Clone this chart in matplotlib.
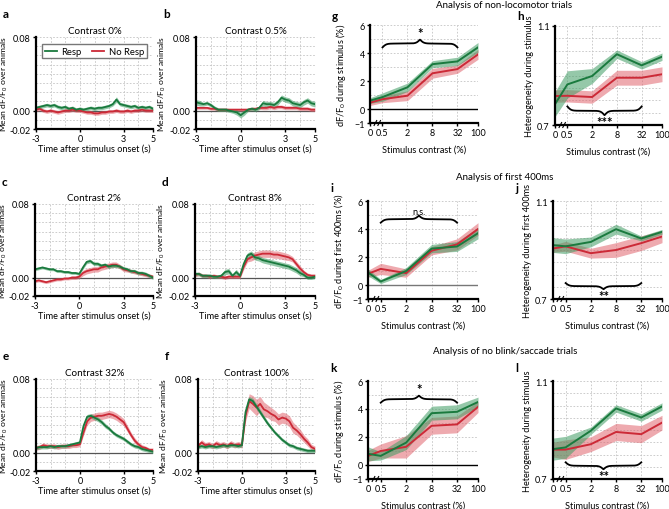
import numpy as np
import matplotlib
matplotlib.use("Agg")
import matplotlib.pyplot as plt
from matplotlib.ticker import MultipleLocator, FixedLocator

plt.rcParams["font.family"] = ["Lato", "DejaVu Sans"]
plt.rcParams["mathtext.fontset"] = "custom"
plt.rcParams["mathtext.rm"] = "Lato"
plt.rcParams["mathtext.default"] = "regular"
plt.rcParams["font.size"] = 6.6

W, H = 669, 510
FS = 6.5      # tick labels
LFS = 6.6     # axis labels
GREEN, GREEN_FILL = "#1a7a3e", "#3f9c63"
RED, RED_FILL = "#cc2a37", "#e0646e"

# ── time traces (values in units of 1e-3 dF/F0), sampled every 0.25 s ──────
TIME = np.arange(-3, 5.001, 0.25)

A_RESP = [3, 4, 5, 6, 5, 6, 4, 3, 4, 2, 3, 1, 2, 1, 2, 3, 2, 3, 3, 4, 5, 7, 12, 7, 6, 5, 4, 5, 3, 4, 3, 4, 2]
A_NORESP = [1, 2, 0, -1, 0, -1, -2, -1, 0, 0, 1, 0, 0, -1, -2, -2, -3, -3, -2, -2, -1, -1, 0, -1, -1, 0, -1, 0, 0, 1, 0, 0, 0]
A_RESP_SEM = [2, 2, 2, 2, 2, 2, 2, 2, 2, 2, 2, 2, 2, 2, 2, 2, 2, 2, 2, 2, 2, 2, 3, 2, 2, 2, 2, 2, 2, 2, 2, 2, 2]
A_NORESP_SEM = [2, 2, 2, 2, 2, 2, 2, 2, 2, 2, 2, 2, 2, 2, 2, 2, 2, 2, 2, 2, 2, 2, 2, 2, 2, 2, 2, 2, 2, 2, 2, 2, 2]

B_RESP = [9, 8, 7, 8, 6, 3, 1, 1, 1, 0, -1, -2, -5, -2, 1, 2, 1, 3, 8, 7, 7, 6, 9, 14, 12, 11, 8, 7, 6, 9, 11, 8, 7]
B_NORESP = [3, 3, 3, 3, 2, 2, 1, 1, 1, 1, 1, 1, 1, 1, 1, 2, 2, 3, 3, 3, 4, 3, 4, 4, 3, 3, 3, 3, 2, 2, 2, 1, 1]
B_RESP_SEM = [3, 3, 2, 2, 2, 2, 2, 2, 2, 2, 2, 3, 3, 3, 2, 2, 2, 2, 3, 3, 3, 3, 3, 3, 3, 3, 3, 3, 3, 3, 3, 3, 3]
B_NORESP_SEM = [1.5, 1.5, 1.5, 1.5, 1.5, 1.5, 1.5, 1.5, 1.5, 1.5, 1.5, 1.5, 1.5, 1.5, 1.5, 1.5, 1.5, 1.5, 2, 2, 2, 2, 2, 2, 2, 2, 2, 2, 2, 2, 2, 2, 2]

C_RESP = [9, 10, 11, 10, 9, 9, 7, 7, 6, 6, 5, 5, 4, 11, 17, 18, 15, 15, 13, 14, 12, 13, 13, 12, 10, 9, 7, 7, 5, 5, 4, 2, 0]
C_NORESP = [-4, -3, -4, -5, -4, -3, -2, -2, -1, -1, 0, 0, 1, 5, 7, 8, 9, 9, 11, 12, 13, 14, 14, 12, 9, 8, 7, 6, 5, 4, 3, 2, 1]
C_RESP_SEM = [1.5, 1.5, 1.5, 1.5, 1.5, 1.5, 1.5, 1.5, 1.5, 1.5, 1.5, 1.5, 1.5, 2, 2, 2, 2, 2, 2, 2, 2, 2, 2, 2, 2, 2, 2, 2, 2, 2, 2, 2, 2]
C_NORESP_SEM = [1.5, 1.5, 1.5, 1.5, 1.5, 1.5, 1.5, 1.5, 1.5, 1.5, 2, 2, 2, 3, 3, 3, 3, 3, 3, 3, 3, 3, 3, 2.5, 2.5, 2, 2, 2, 2, 2, 2, 2, 2]

D_RESP = [4, 4, 2, 2, 2, 1, 1, 2, 6, 7, 2, 6, 2, 15, 24, 26, 22, 21, 19, 18, 17, 16, 15, 14, 13, 12, 10, 8, 5, 3, 0, 0, 1]
D_NORESP = [3, 4, 2, 2, 1, 2, 1, 1, 0, 1, 1, 1, 1, 12, 20, 22, 24, 25, 26, 26, 26, 25, 25, 24, 23, 22, 20, 15, 10, 6, 3, 2, 2]
D_RESP_SEM = [2, 2, 2, 2, 2, 2, 2, 2, 3, 3, 2, 3, 2, 3, 3, 3, 3, 3, 3, 3, 3, 3, 3, 3, 3, 3, 3, 3, 3, 2, 2, 2, 2]
D_NORESP_SEM = [2, 2, 2, 2, 2, 2, 2, 2, 2, 2, 2, 2, 2, 3, 3, 4, 4, 4, 4, 4, 4, 4, 4, 4, 4, 3.5, 3, 3, 3, 2, 2, 2, 2]

E_RESP = [5, 6, 6, 6, 7, 6, 7, 7, 7, 8, 9, 10, 11, 29, 39, 40, 38, 36, 33, 29, 26, 22, 19, 17, 15, 12, 9, 7, 6, 4, 3, 2, 1]
E_NORESP = [5, 6, 8, 7, 7, 7, 6, 7, 7, 7, 8, 8, 9, 22, 34, 38, 39, 40, 40, 41, 42, 41, 39, 36, 33, 26, 19, 13, 9, 6, 5, 3, 3]
E_RESP_SEM = [2, 2, 2, 2, 2, 2, 2, 2, 2, 2, 2, 2, 2, 2.5, 2.5, 2.5, 2.5, 2.5, 2.5, 2.5, 2, 2, 2, 2, 2, 2, 2, 2, 2, 2, 2, 2, 2]
E_NORESP_SEM = [2.5, 2.5, 2.5, 2.5, 2.5, 2.5, 2.5, 2.5, 2.5, 2.5, 2.5, 2.5, 2.5, 3, 4, 4, 4, 4, 4, 4, 4, 4, 4, 4, 4, 3.5, 3, 3, 2.5, 2.5, 2, 2, 2]

F_RESP = [6, 7, 6, 7, 7, 6, 7, 8, 7, 8, 8, 7, 8, 44, 58, 56, 50, 44, 38, 32, 27, 22, 18, 14, 11, 8, 7, 5, 4, 3, 2, 2, 2]
F_NORESP = [7, 11, 8, 9, 7, 10, 8, 9, 7, 10, 8, 9, 8, 40, 56, 53, 49, 53, 47, 45, 42, 40, 36, 38, 37, 34, 27, 24, 20, 15, 11, 6, 4]
F_RESP_SEM = [2, 2, 2, 2, 2, 2, 2, 2, 2, 2, 2, 2, 2, 3, 3, 3, 3, 3, 2.5, 2.5, 2, 2, 2, 2, 2, 2, 2, 2, 2, 2, 2, 2, 2]
F_NORESP_SEM = [3, 3, 3, 3, 3, 3, 3, 3, 3, 3, 3, 3, 3, 6, 8, 9, 9, 8, 8, 7, 7, 6, 6, 6, 6, 6, 6, 5, 5, 4, 4, 3, 3]

TRACE_TITLES = ["Contrast 0%", "Contrast 0.5%", "Contrast 2%", "Contrast 8%", "Contrast 32%", "Contrast 100%"]

# ── summary panels ──────────────────────────────────────────────────────────
CONTRAST = [0, 0.5, 2, 8, 32, 100]
CONTRAST_LABELS = ["0", "0.5", "2", "8", "32", "100"]

G_RESP = [0.6, 0.85, 1.55, 3.2, 3.4, 4.4]
G_RESP_SEM = [0.2, 0.3, 0.3, 0.25, 0.3, 0.35]
G_NORESP = [0.45, 0.7, 0.95, 2.55, 2.85, 3.9]
G_NORESP_SEM = [0.2, 0.25, 0.35, 0.35, 0.3, 0.35]

H_RESP = [0.784, 0.864, 0.898, 0.986, 0.941, 0.976]
H_RESP_SEM = [0.05, 0.055, 0.03, 0.017, 0.015, 0.015]
H_NORESP = [0.817, 0.818, 0.813, 0.891, 0.891, 0.905]
H_NORESP_SEM = [0.025, 0.025, 0.025, 0.03, 0.03, 0.03]

I_RESP = [0.9, 0.25, 1.0, 2.6, 2.75, 3.7]
I_RESP_SEM = [0.25, 0.15, 0.25, 0.3, 0.35, 0.4]
I_NORESP = [0.8, 1.15, 0.85, 2.45, 2.9, 4.0]
I_NORESP_SEM = [0.25, 0.4, 0.3, 0.3, 0.4, 0.45]

J_RESP = [0.92, 0.915, 0.933, 0.985, 0.947, 0.974]
J_RESP_SEM = [0.03, 0.03, 0.02, 0.02, 0.01, 0.01]
J_NORESP = [0.906, 0.915, 0.887, 0.9, 0.928, 0.955]
J_NORESP_SEM = [0.015, 0.02, 0.02, 0.03, 0.03, 0.025]

K_RESP = [0.8, 0.65, 1.6, 3.7, 3.8, 4.5]
K_RESP_SEM = [0.5, 0.3, 0.5, 0.5, 0.5, 0.35]
K_NORESP = [0.65, 1.0, 1.3, 2.8, 2.9, 4.15]
K_NORESP_SEM = [0.4, 0.5, 0.8, 0.6, 0.6, 0.4]

L_RESP = [0.822, 0.829, 0.897, 0.988, 0.951, 0.996]
L_RESP_SEM = [0.045, 0.045, 0.015, 0.015, 0.015, 0.015]
L_NORESP = [0.82, 0.82, 0.842, 0.892, 0.883, 0.93]
L_NORESP_SEM = [0.03, 0.04, 0.03, 0.035, 0.035, 0.03]


fig = plt.figure(figsize=(W / 100, H / 100), dpi=100)


def px_axes(x0, y0, x1, y1):
    return fig.add_axes([x0 / W, 1 - y1 / H, (x1 - x0) / W, (y1 - y0) / H])


def style(ax, xgrid, ygrid):
    for s in ["top", "right"]:
        ax.spines[s].set_visible(False)
    for s in ["left", "bottom"]:
        ax.spines[s].set_linewidth(1.6)
    ax.xaxis.set_minor_locator(MultipleLocator(xgrid) if xgrid else FixedLocator([]))
    ax.yaxis.set_minor_locator(MultipleLocator(ygrid))
    ax.grid(which="both", ls=(0, (2, 2)), color="#c4c4c4", lw=0.6)
    ax.tick_params(which="major", length=2.5, width=1, pad=1.2, labelsize=FS)
    ax.tick_params(which="minor", length=0)
    ax.set_axisbelow(True)


def band(ax, x, mean, sem, line_c, fill_c):
    m = np.asarray(mean)
    s = np.asarray(sem)
    ax.fill_between(x, m - s, m + s, color=fill_c, alpha=0.55, lw=0)
    ax.plot(x, m, color=line_c, lw=1.4)


# time-trace panels
trace_boxes = [(36, 38, 153, 130), (196, 38, 315, 130),
               (35, 205, 153, 297), (195, 205, 315, 297),
               (36, 380, 153, 472), (198, 380, 315, 472)]
trace_data = [(A_RESP, A_RESP_SEM, A_NORESP, A_NORESP_SEM),
              (B_RESP, B_RESP_SEM, B_NORESP, B_NORESP_SEM),
              (C_RESP, C_RESP_SEM, C_NORESP, C_NORESP_SEM),
              (D_RESP, D_RESP_SEM, D_NORESP, D_NORESP_SEM),
              (E_RESP, E_RESP_SEM, E_NORESP, E_NORESP_SEM),
              (F_RESP, F_RESP_SEM, F_NORESP, F_NORESP_SEM)]
trace_letters = ["a", "b", "c", "d", "e", "f"]

for k, (box, data, title, letter) in enumerate(zip(trace_boxes, trace_data, TRACE_TITLES, trace_letters)):
    ax = px_axes(*box)
    style(ax, 1, 0.01)
    ax.axhline(0, color="#555555", lw=0.9, zorder=1)
    g, gs, r, rs = [np.array(v) / 1000 for v in data]
    ax.fill_between(TIME, r - rs, r + rs, color=RED_FILL, alpha=0.55, lw=0)
    ax.fill_between(TIME, g - gs, g + gs, color=GREEN_FILL, alpha=0.55, lw=0)
    lr, = ax.plot(TIME, r, color=RED, lw=1.3, label="No Resp")
    lg, = ax.plot(TIME, g, color=GREEN, lw=1.3, label="Resp")
    ax.set_xlim(-3, 5)
    ax.set_ylim(-0.02, 0.08)
    ax.set_xticks([-3, 0, 3, 5])
    ax.set_xticklabels(["-3", "0", "3", "5"])
    ax.set_yticks([-0.02, 0.0, 0.08])
    ax.set_yticklabels(["-0.02", "0.00", "0.08"])
    ax.set_title(title, fontsize=7.1, pad=3)
    ax.set_xlabel("Time after stimulus onset (s)", fontsize=LFS, labelpad=0.5)
    ax.set_ylabel("Mean dF/F$_0$ over animals", fontsize=6.1)
    off = -26 if k % 2 == 0 else -28
    ax.yaxis.set_label_coords(off / (box[2] - box[0]), 0.5)
    fig.text((box[0] - 33) / W, 1 - 15 / H - (box[1] - 38) / H, letter,
             fontsize=8.5, fontweight="bold", va="center")
    if letter == "a":
        ax.legend(handles=[lg, lr], loc="upper center", ncol=2, fontsize=LFS + 0.2,
                  frameon=True, fancybox=False, edgecolor="#777777", framealpha=1,
                  handlelength=1.3, columnspacing=1.1, borderpad=0.25,
                  handletextpad=0.5, bbox_to_anchor=(0.5, 0.97))


# summary panels
pos = np.log10([c if c > 0 else 0.25 for c in CONTRAST])


def brace(ax, x0, x1, y, h):
    xs = np.linspace(x0, x1, 300)
    half = xs[:150]
    beta = 40.0 / (x1 - x0)
    yh = 1 / (1 + np.exp(-beta * (half - half[0]))) + 1 / (1 + np.exp(-beta * (half - half[-1])))
    yy = np.concatenate([yh, yh[::-1]])
    ax.plot(xs, y + (yy - 0.5) * h, color="black", lw=1.3, clip_on=False)


def break_marks(ax):
    for dx in (0.05, 0.085):
        ax.plot([dx - 0.012, dx + 0.012], [-0.025, 0.025], transform=ax.transAxes,
                color="black", lw=0.8, clip_on=False)


sum_boxes = [(370, 26, 478, 124), (555, 27, 662, 126),
             (368, 202, 478, 300), (553, 202, 662, 300),
             (368, 382, 478, 480), (553, 382, 662, 480)]
sum_data = [(G_RESP, G_RESP_SEM, G_NORESP, G_NORESP_SEM),
            (H_RESP, H_RESP_SEM, H_NORESP, H_NORESP_SEM),
            (I_RESP, I_RESP_SEM, I_NORESP, I_NORESP_SEM),
            (J_RESP, J_RESP_SEM, J_NORESP, J_NORESP_SEM),
            (K_RESP, K_RESP_SEM, K_NORESP, K_NORESP_SEM),
            (L_RESP, L_RESP_SEM, L_NORESP, L_NORESP_SEM)]
sum_letters = ["g", "h", "i", "j", "k", "l"]
letter_y = [17, 17, 188, 189, 369, 369]
sum_ylabels = ["dF/F$_0$ during stimulus (%)", "Heterogeneity during stimulus",
               "dF/F$_0$ during first 400ms (%)", "Heterogeneity during first 400ms",
               "dF/F$_0$ during stimulus (%)", "Heterogeneity during stimulus"]
# (brace y at ends, brace height, label y, label)
sum_sig = [(4.4, 0.55, 5.0, "*"), (0.775, -0.035, 0.737, "***"),
           (4.45, 0.5, 4.95, "n.s."), (0.765, -0.025, 0.735, "**"),
           (4.45, 0.5, 5.0, "*"), (0.768, -0.028, 0.737, "**")]
zero_colors = ["black", None, "#777777", None, "black", None]

for i, (box, data, letter, ylab, sig) in enumerate(zip(sum_boxes, sum_data, sum_letters, sum_ylabels, sum_sig)):
    ax = px_axes(*box)
    g, gs, r, rs = data
    is_df = i % 2 == 0
    style(ax, None, 1 if is_df else 0.05)
    ax.set_xticks(pos)
    ax.set_xticklabels(CONTRAST_LABELS)
    ax.grid(which="major", axis="x", ls=(0, (2, 2)), color="#c4c4c4", lw=0.6)
    band(ax, pos, r, rs, RED, RED_FILL)
    band(ax, pos, g, gs, GREEN, GREEN_FILL)
    ax.set_xlim(pos[0], pos[-1])
    if is_df:
        ax.set_ylim(-1, 6)
        ax.set_yticks([-1, 0, 2, 4, 6])
        ax.axhline(0, color=zero_colors[i], lw=1.0, zorder=1)
    else:
        ax.set_ylim(0.7, 1.1)
        ax.set_yticks([0.7, 1.1])
        ax.set_yticklabels(["0.7", "1.1"])
    break_marks(ax)
    ax.set_xlabel("Stimulus contrast (%)", fontsize=LFS, labelpad=5)
    ax.set_ylabel(ylab, fontsize=LFS)
    ax.yaxis.set_label_coords((-22 if is_df else -21) / (box[2] - box[0]), 0.5)
    ys, hh, ylbl, txt = sig
    brace(ax, pos[1], pos[4], ys, hh)
    ax.text((pos[1] + pos[4]) / 2, ylbl, txt, ha="center",
            va="bottom" if hh > 0 else "top",
            fontsize=LFS if txt == "n.s." else 9.5,
            fontweight="normal" if txt == "n.s." else "bold")
    fig.text((box[0] - 38) / W, 1 - letter_y[i] / H, letter,
             fontsize=8.5, fontweight="bold", va="center")

fig.text(504 / W, 1 - 6 / H, "Analysis of non-locomotor trials", ha="center", va="center", fontsize=LFS + 0.4)
fig.text(505 / W, 1 - 177 / H, "Analysis of first 400ms", ha="center", va="center", fontsize=LFS + 0.4)
fig.text(505 / W, 1 - 351 / H, "Analysis of no blink/saccade trials", ha="center", va="center", fontsize=LFS + 0.4)

fig.savefig("out.png", dpi=100)
